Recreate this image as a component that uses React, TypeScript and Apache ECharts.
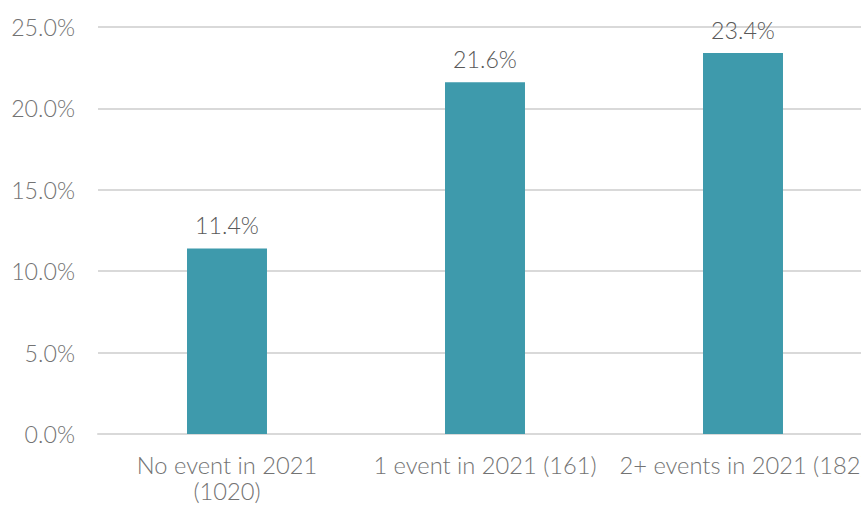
import React, { useEffect, useRef } from "react";
import * as echarts from "echarts";

const categories = ["No event in 2021\n(1020)", "1 event in 2021 (161)", "2+ events in 2021 (182)"];
const values = [11.4, 21.6, 23.4];
const yMin = 0;
const yMax = 25;
const yInterval = 5;

export default function App() {
  const ref = useRef<HTMLDivElement>(null);
  useEffect(() => {
    document.body.style.margin = "0";
    const chart = echarts.init(ref.current!, null, { renderer: "svg" });
    const font = "Lato, 'Noto Sans', sans-serif";
    chart.setOption({
      animation: false,
      grid: { left: 98, right: 0, top: 27, bottom: 71, containLabel: false },
      xAxis: {
        type: "category",
        data: categories,
        axisTick: { show: false },
        axisLine: { lineStyle: { color: "#d9d9d9", width: 2 } },
        axisLabel: {
          color: "#737373",
          fontSize: 23.7,
          fontFamily: font,
          fontWeight: 300,
          margin: 18,
          lineHeight: 26,
          interval: 0,
          overflow: "none",
        },
      },
      yAxis: {
        type: "value",
        min: yMin,
        max: yMax,
        interval: yInterval,
        axisLabel: {
          formatter: (v: number) => v.toFixed(1) + "%",
          color: "#737373",
          fontSize: 23.2,
          fontFamily: font,
          fontWeight: 300,
          margin: 23,
        },
        splitLine: { lineStyle: { color: "#d9d9d9", width: 2 } },
        axisLine: { show: false },
        axisTick: { show: false },
      },
      series: [
        {
          type: "bar",
          data: values,
          barWidth: "31%",
          itemStyle: { color: "#3E9AAC" },
          label: {
            show: true,
            position: "top",
            distance: 12,
            formatter: (p: any) => p.value.toFixed(1) + "%",
            color: "#595959",
            fontSize: 23.2,
            fontFamily: font,
            fontWeight: 300,
          },
        },
      ],
    });
    return () => chart.dispose();
  }, []);
  return (
    <div style={{ width: 861, height: 505, overflow: "hidden" }}>
      <div ref={ref} style={{ width: 872, height: 505 }} />
    </div>
  );
}
